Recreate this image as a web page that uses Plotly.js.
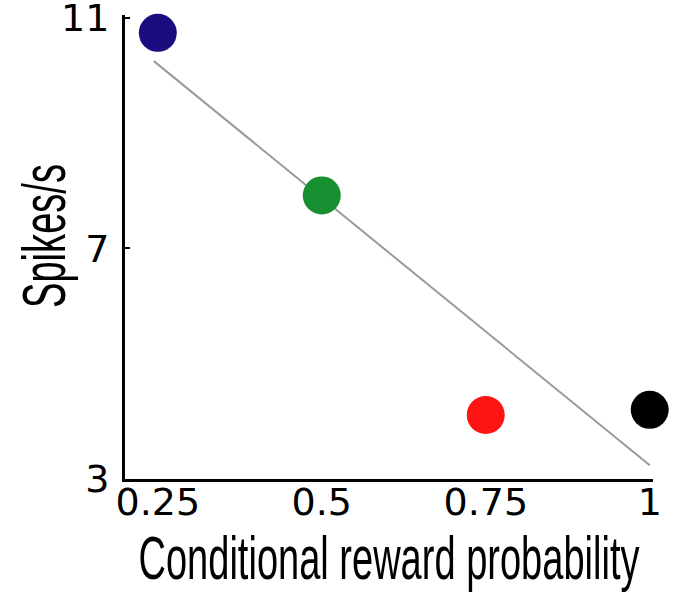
<!DOCTYPE html>
<html>
<head>
<meta charset="utf-8">
<script src="https://cdn.plot.ly/plotly-3.0.1.min.js"></script>
<style>html,body{margin:0;padding:0;background:#fff;}</style>
</head>
<body>
<div id="chart" style="width:674px;height:598px;"></div>
<script>
// Data
const rewardProb = [0.25, 0.5, 0.75, 1];
const spikesPerSec = [10.74, 7.92, 4.11, 4.20];
const pointColors = ["#1a0d80", "#169030", "#ff1414", "#000000"];
// regression line endpoints
const fitX = [0.244, 1.0];
const fitY = [10.25, 3.24];
const xTickVals = [0.25, 0.5, 0.75, 1];
const xTickText = ["0.25", "0.5", "0.75", "1"];
const yTickVals = [3, 7, 11];
const yTickText = ["3", "7", "11"];

const traces = [
  {
    x: fitX, y: fitY, mode: "lines", type: "scatter",
    line: {color: "#9a9a9a", width: 2}, hoverinfo: "skip", showlegend: false
  },
  {
    x: rewardProb, y: spikesPerSec, mode: "markers", type: "scatter",
    cliponaxis: false,
    marker: {color: pointColors, size: 38, line: {width: 0}}, showlegend: false
  }
];

const tickFont = {family: "DejaVu Sans, sans-serif", size: 38, color: "#000"};
const titleFont = {family: "Liberation Sans, Arial, sans-serif", size: 61, color: "#000"};

const layout = {
  width: 674, height: 598,
  margin: {l: 125, r: 21, t: 15, b: 119},
  paper_bgcolor: "#fff", plot_bgcolor: "#fff",
  showlegend: false,
  xaxis: {
    range: [0.2, 1.005], showgrid: false, zeroline: false,
    showline: true, linecolor: "#000", linewidth: 2.5,
    tickmode: "array", tickvals: xTickVals, ticktext: xTickText,
    ticks: "", tickfont: tickFont, ticklabelstandoff: -12,
    ticklabeloverflow: "allow",
    title: {text: "Conditional reward probability", font: titleFont, standoff: 0},
    automargin: false
  },
  yaxis: {
    range: [3, 11.05], showgrid: false, zeroline: false,
    showline: true, linecolor: "#000", linewidth: 3,
    tickmode: "array", tickvals: yTickVals, ticktext: yTickText,
    ticks: "inside", ticklen: 5, tickwidth: 2, tickcolor: "#000",
    tickfont: tickFont, ticklabelstandoff: 5,
    ticklabeloverflow: "allow",
    title: {text: "Spikes/s", font: titleFont, standoff: 10},
    automargin: false
  }
};

Plotly.newPlot("chart", traces, layout, {displayModeBar: false, staticPlot: true}).then(function (gd) {
  const xt = gd.querySelector(".xtitle");
  if (xt) { xt.setAttribute("textLength", "501"); xt.setAttribute("lengthAdjust", "spacingAndGlyphs"); }
  const yt = gd.querySelector(".ytitle");
  if (yt) {
    yt.setAttribute("textLength", "144"); yt.setAttribute("lengthAdjust", "spacingAndGlyphs");
    yt.setAttribute("transform", "translate(10,-11) " + (yt.getAttribute("transform") || ""));
  }
});
</script>
</body>
</html>
